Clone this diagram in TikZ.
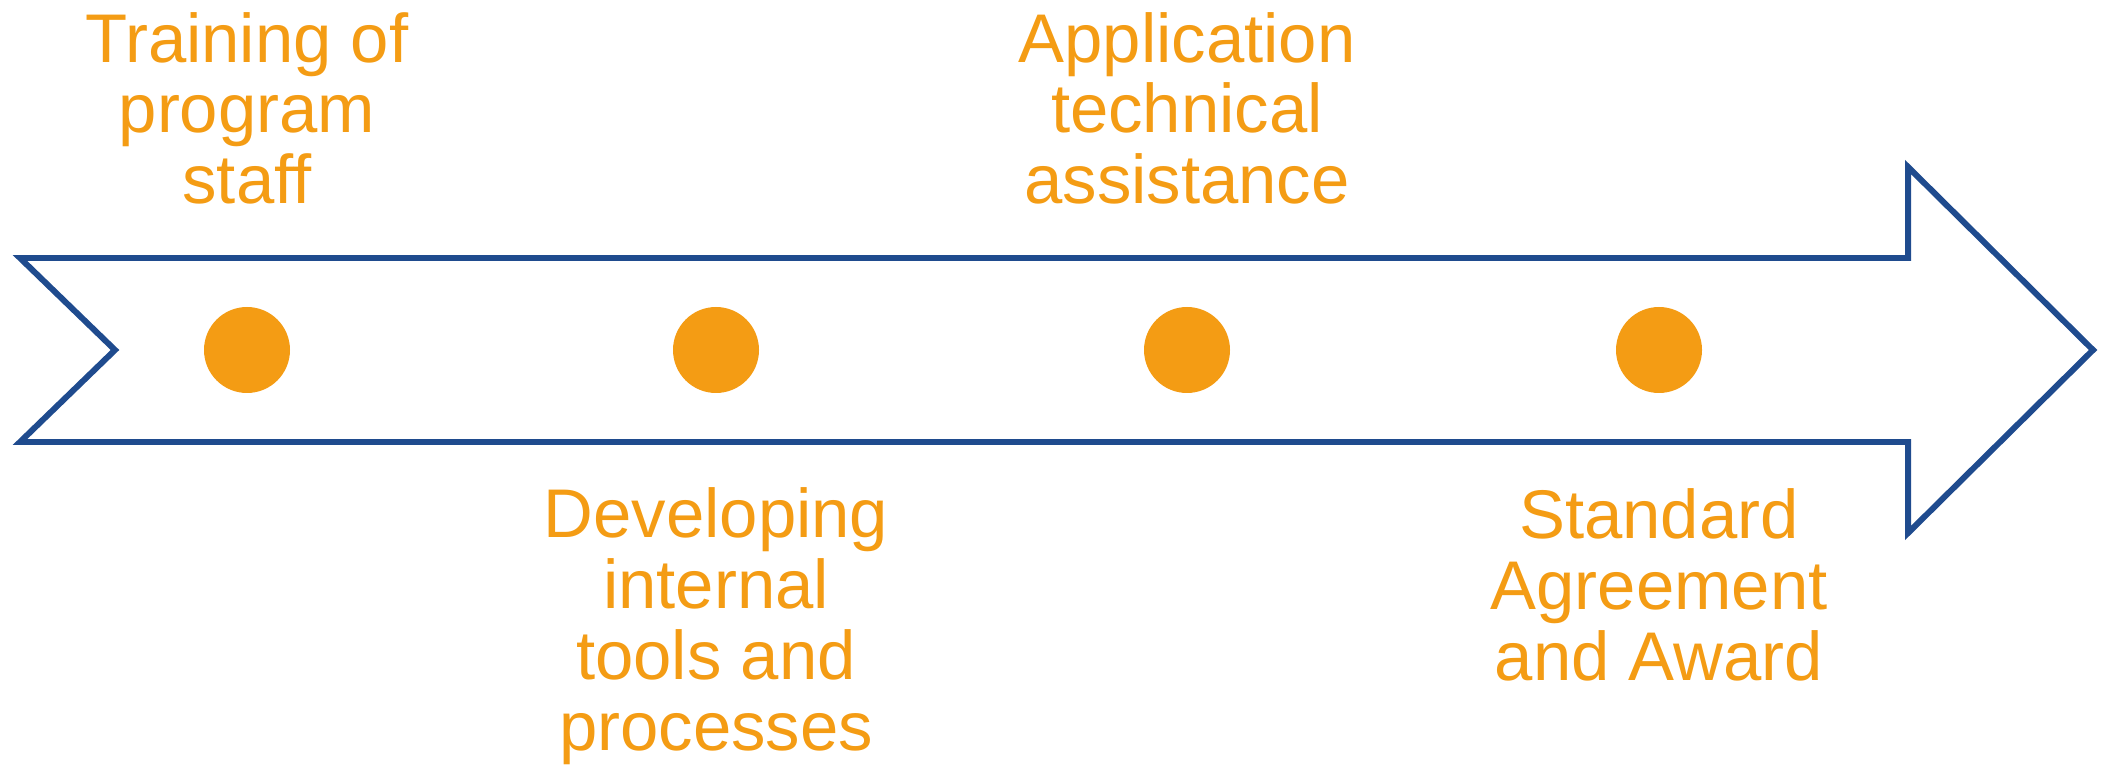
\documentclass[tikz,border=0pt]{standalone}
\usepackage{fontspec}
\setmainfont{Liberation Sans}
\usepackage{tikz}
\usetikzlibrary{positioning}
\definecolor{stepOrange}{HTML}{F49C14}
\definecolor{arrowBlue}{HTML}{1F4B8E}
\tikzset{milestone/.style={circle,fill=stepOrange,inner sep=0pt,minimum size=0.86cm},
  stagetext/.style={text=stepOrange,align=center,inner sep=0pt,
    font=\fontsize{19.6}{20.2}\selectfont}}

\begin{document}
\begin{tikzpicture}
        \useasboundingbox (0,0) rectangle (21.11,7.68);
        % the big timeline arrow
        \draw[arrowBlue,line width=1.7pt,line join=miter]
          (0.20,5.10) -- (1.15,4.18) -- (0.20,3.26) -- (19.08,3.26)
          -- (19.08,2.35) -- (20.93,4.18) -- (19.08,6.01) -- (19.08,5.10) -- cycle;

        \node[milestone] (m1) at (2.47,4.18) {};
        \node[milestone] (m2) at (7.16,4.18) {};
        \node[milestone] (m3) at (11.87,4.18) {};
        \node[milestone] (m4) at (16.59,4.18) {};

        % base anchor sits on the last line
        \node[stagetext,anchor=base] (s1) at (2.47,5.64) {Training of\\program\\staff};
        \node[stagetext,anchor=base] (s2) at (7.16,0.18) {Developing\\internal\\tools and\\processes};
        \node[stagetext,anchor=base] (s3) at (11.87,5.64) {Application\\technical\\assistance};
        \node[stagetext,anchor=base] (s4) at (16.59,0.88) {Standard\\Agreement\\and Award};
      \end{tikzpicture}
\end{document}
